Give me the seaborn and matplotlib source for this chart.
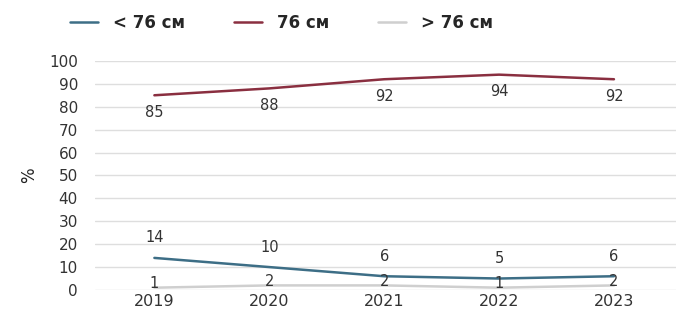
import pandas as pd
import matplotlib.pyplot as plt
import seaborn as sns

# Данные графика
years = ['2019', '2020', '2021', '2022', '2023']
menos_76 = [14, 10, 6, 5, 6]
igual_76 = [85, 88, 92, 94, 92]
mais_76 = [1, 2, 2, 1, 2]
series_names = ['< 76 см', '76 см', '> 76 см']
y_ticks = list(range(0, 101, 10))

cores = ['#3d6e86', '#8a2f40', '#cfcfcf']

df = pd.DataFrame({
    'ano': years * 3,
    'valor': menos_76 + igual_76 + mais_76,
    'serie': [series_names[0]] * 5 + [series_names[1]] * 5 + [series_names[2]] * 5,
})

sns.set_theme(style='white')
plt.rcParams['font.family'] = ['DejaVu Sans']

fig = plt.figure(figsize=(6.76, 3.24), dpi=100)
ax = fig.add_axes([0.14, 0.105, 0.86, 0.707])

sns.lineplot(data=df, x='ano', y='valor', hue='serie', palette=cores,
             linewidth=1.8, ax=ax, sort=False, legend=True)

# Rótulos dos valores
offsets = {series_names[0]: (0, 9, 'bottom'),
           series_names[1]: (0, -7, 'top'),
           series_names[2]: (0, 3, 'center')}
for nome, valores in zip(series_names, [menos_76, igual_76, mais_76]):
    dx, dy, va = offsets[nome]
    for i, v in enumerate(valores):
        ax.annotate(str(v), (i, v), xytext=(dx, dy), textcoords='offset points',
                    ha='center', va=va, fontsize=10.5, color='#333333')

ax.set_ylim(0, 100)
ax.set_xlim(-0.52, 4.54)
ax.set_yticks(y_ticks)
ax.yaxis.grid(True, color='#dedede', linewidth=1)
ax.set_axisbelow(True)
ax.tick_params(axis='y', length=0, labelsize=11, colors='#333333', pad=12)
ax.tick_params(axis='x', length=0, labelsize=11.5, colors='#333333', pad=3)
for s in ax.spines.values():
    s.set_visible(False)
ax.set_xlabel('')
ax.set_ylabel('%', fontsize=12, color='#222222', labelpad=8)

handles, labels = ax.get_legend_handles_labels()
ax.get_legend().remove()
fig.legend(handles, labels, loc='center left', bbox_to_anchor=(70 / 676, 1 - 23 / 324),
           ncol=3, frameon=False, prop={'weight': 'bold', 'size': 12},
           handlelength=1.7, columnspacing=2.9, handletextpad=0.9,
           borderpad=0, borderaxespad=0)

plt.savefig('out.png', dpi=100)
